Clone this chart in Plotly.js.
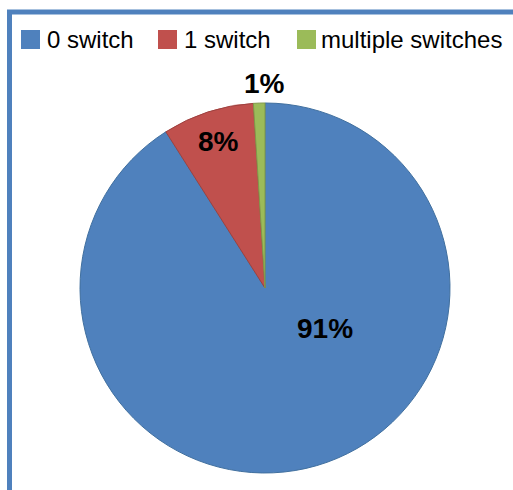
<!DOCTYPE html>
<html>
<head>
<meta charset="utf-8">
<script src="https://cdn.plot.ly/plotly-3.0.1.min.js"></script>
<style>html,body{margin:0;padding:0;background:#fff;}#chart{width:513px;height:490px;}</style>
</head>
<body>
<div id="chart"></div>
<script>
const categories = ["0 switch", "1 switch", "multiple switches"];
const shares = [91, 8, 1];
const colors = ["#4f81bd", "#c0504d", "#9bbb59"];
const edgeColors = ["#41709f", "#9e413f", "#80994a"];

const W = 513, H = 490;
const px = v => v / W, py = v => 1 - v / H;

// pie geometry (pixels)
const cx = 265, cy = 288, R = 185;
// label placement style: angular offset from slice middle (deg) and radius fraction
const labelAngleOffset = [-38, 0, 1.8];
const labelRadius = [0.40, 0.82, 1.09];
const labelLift = 2.5; // px, compensates for descender space in the text box

// manual legend (swatch + text) positions
const legSwatchX = [21, 158, 297];
const legTextX = [45, 182, 319];

const labelFont = {family: "Liberation Sans, Arial, sans-serif", size: 28, color: "#000", weight: "bold"};

const shapes = [{
  type: "rect", xref: "paper", yref: "paper",
  x0: px(9.5), x1: 1.2, y0: -0.2, y1: py(12),
  line: {color: "#4f81bd", width: 5}, fillcolor: "rgba(0,0,0,0)"
}];
const annotations = [];
categories.forEach((c, i) => {
  shapes.push({type: "rect", xref: "paper", yref: "paper",
    x0: px(legSwatchX[i]), x1: px(legSwatchX[i] + 19), y0: py(49), y1: py(30),
    line: {width: 0}, fillcolor: colors[i]});
  annotations.push({xref: "paper", yref: "paper", x: px(legTextX[i]), y: py(40),
    xanchor: "left", yanchor: "middle", showarrow: false, text: c,
    font: {family: "Liberation Sans, Arial, sans-serif", size: 24, color: "#000"}});
});

// percentage labels placed from the cumulative shares
const total = shares.reduce((a, b) => a + b, 0);
let cum = 0;
shares.forEach((v, i) => {
  const mid = (cum + v / 2) / total * 360 + labelAngleOffset[i];
  cum += v;
  const a = mid * Math.PI / 180;
  const x = cx + Math.sin(a) * R * labelRadius[i];
  const y = cy - Math.cos(a) * R * labelRadius[i] - labelLift;
  annotations.push({xref: "paper", yref: "paper", x: px(x), y: py(y),
    xanchor: "center", yanchor: "middle", showarrow: false,
    text: Math.round(v / total * 100) + "%", font: labelFont});
});

const trace = {
  type: "pie", labels: categories, values: shares, sort: false,
  direction: "clockwise", rotation: 0,
  marker: {colors: colors, line: {color: edgeColors, width: 1}},
  textinfo: "none",
  domain: {x: [px(cx - R), px(cx + R)], y: [py(cy + R), py(cy - R)]},
  showlegend: false, hoverinfo: "none"
};

Plotly.newPlot("chart", [trace], {
  width: W, height: H, margin: {l: 0, r: 0, t: 0, b: 0},
  paper_bgcolor: "#fff", showlegend: false,
  shapes: shapes, annotations: annotations
}, {displayModeBar: false, staticPlot: true});
</script>
</body>
</html>
